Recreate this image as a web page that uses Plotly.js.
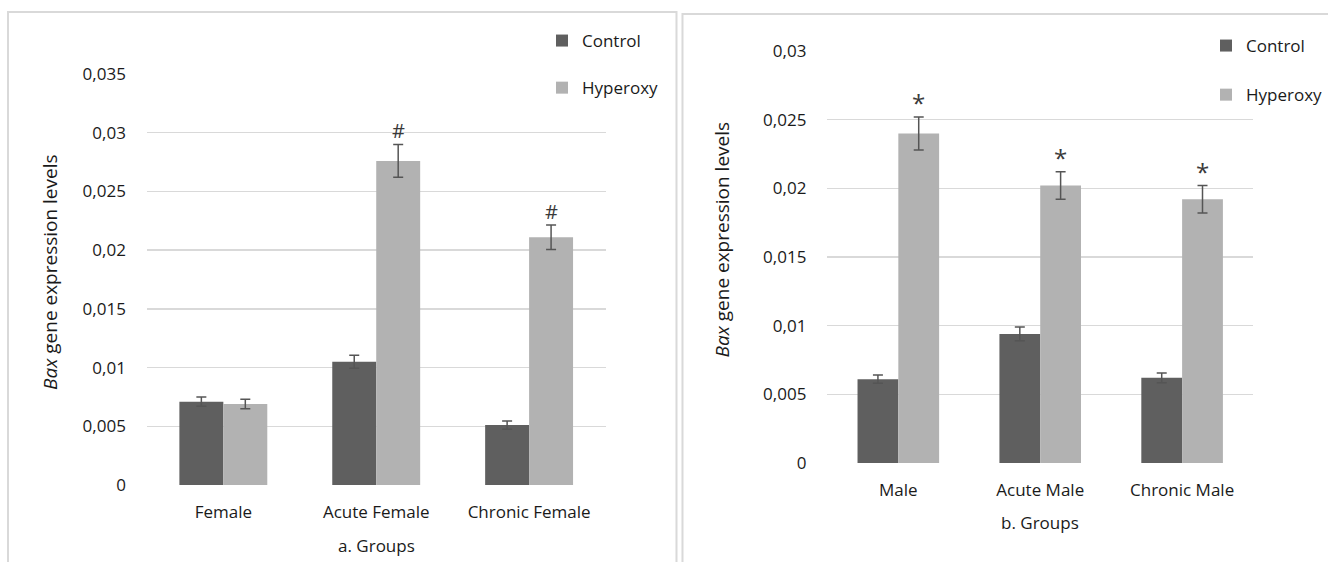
<!DOCTYPE html>
<html>
<head>
<meta charset="utf-8">
<script src="https://cdn.plot.ly/plotly-3.0.1.min.js"></script>
<style>html,body{margin:0;padding:0;background:#fff;}#chart{width:1328px;height:562px;}</style>
</head>
<body>
<div id="chart"></div>
<script>
// ---- Data ----
const groupsA = ['Female', 'Acute Female', 'Chronic Female'];
const controlA = [0.0071, 0.0105, 0.0051];
const controlAErr = [0.0004, 0.00055, 0.00035];
const hyperA = [0.0069, 0.0276, 0.0211];
const hyperAErr = [0.0004, 0.0014, 0.00105];
const marksA = ['', '#', '#'];

const groupsB = ['Male', 'Acute Male', 'Chronic Male'];
const controlB = [0.0061, 0.0094, 0.0062];
const controlBErr = [0.0003, 0.0005, 0.00036];
const hyperB = [0.0240, 0.0202, 0.0192];
const hyperBErr = [0.0012, 0.001, 0.001];
const marksB = ['*', '*', '*'];

const seriesNames = ['Control', 'Hyperoxy'];
const yTickValsA = [0, 0.005, 0.01, 0.015, 0.02, 0.025, 0.03, 0.035];
const yTickTextA = ['0', '0,005', '0,01', '0,015', '0,02', '0,025', '0,03', '0,035'];
const yTickValsB = [0, 0.005, 0.01, 0.015, 0.02, 0.025, 0.03];
const yTickTextB = ['0', '0,005', '0,01', '0,015', '0,02', '0,025', '0,03'];
const titleA = 'a. Groups';
const titleB = 'b. Groups';
const yTitle = '<i>Bax</i> gene expression levels';

// ---- Styling ----
const W = 1328, H = 562;
const px = v => v / W;
const py = v => 1 - v / H;
const cControl = '#5f5f5f', cHyper = '#b2b2b2';
const textColor = '#1a1a1a';
const font = 'Open Sans, sans-serif';
const errStyle = {type: 'data', visible: true, color: '#555555', thickness: 1.5, width: 5};

function bar(x, y, err, name, color, xa, ya, leg) {
  return {
    type: 'bar', x: x, y: y, name: name,
    marker: {color: color},
    error_y: Object.assign({array: err}, errStyle),
    xaxis: xa, yaxis: ya, legend: leg, legendgroup: name + leg,
    hoverinfo: 'x+y'
  };
}

const traces = [
  bar(groupsA, controlA, controlAErr, seriesNames[0], cControl, 'x', 'y', 'legend'),
  bar(groupsA, hyperA, hyperAErr, seriesNames[1], cHyper, 'x', 'y', 'legend'),
  bar(groupsB, controlB, controlBErr, seriesNames[0], cControl, 'x2', 'y2', 'legend2'),
  bar(groupsB, hyperB, hyperBErr, seriesNames[1], cHyper, 'x2', 'y2', 'legend2')
];

const annotations = [];
groupsA.forEach((g, i) => {
  if (marksA[i]) annotations.push({x: g, y: hyperA[i] + hyperAErr[i], xref: 'x', yref: 'y',
    text: marksA[i], showarrow: false, xshift: 22, yanchor: 'bottom', yshift: -2,
    font: {family: font, size: 20, color: '#3a3a3a'}});
});
groupsB.forEach((g, i) => {
  if (marksB[i]) annotations.push({x: g, y: hyperB[i] + hyperBErr[i], xref: 'x2', yref: 'y2',
    text: marksB[i], showarrow: false, xshift: 20, yanchor: 'bottom', yshift: -4,
    font: {family: font, size: 24, color: '#3a3a3a'}});
});
// axis titles
function title(x, y, text, angle) {
  return {xref: 'paper', yref: 'paper', x: px(x), y: py(y), xanchor: 'center', yanchor: 'middle',
    text: text, textangle: angle, showarrow: false, font: {family: font, size: angle ? 19 : 17, color: textColor}};
}
annotations.push(title(377, 545, titleA, 0));
annotations.push(title(1041, 522, titleB, 0));
annotations.push(title(50, 272, yTitle, -90));
annotations.push(title(723, 239, yTitle, -90));

const xBase = {type: 'category', showline: false, ticks: '', showgrid: false, zeroline: false,
  tickfont: {family: font, size: 17, color: textColor}, fixedrange: true, ticklabelstandoff: 15};
const yBase = {showline: false, ticks: '', zeroline: false, showgrid: true, gridcolor: '#d9d9d9', gridwidth: 1.5,
  tickfont: {family: font, size: 17, color: textColor}, tickmode: 'array', fixedrange: true, ticklabelstandoff: 20};

const layout = {
  width: W, height: H,
  margin: {l: 0, r: 0, t: 0, b: 0},
  paper_bgcolor: '#ffffff', plot_bgcolor: '#ffffff',
  barmode: 'group', bargap: 0.425, bargroupgap: 0,
  font: {family: font, color: textColor},
  xaxis: Object.assign({}, xBase, {domain: [px(147), px(606)], anchor: 'y'}),
  yaxis: Object.assign({}, yBase, {domain: [py(485), py(74)], anchor: 'x', range: [0, 0.035],
    tickvals: yTickValsA, ticktext: yTickTextA}),
  xaxis2: Object.assign({}, xBase, {domain: [px(828), px(1254)], anchor: 'y2'}),
  yaxis2: Object.assign({}, yBase, {domain: [py(463), py(51)], anchor: 'x2', range: [0, 0.03],
    tickvals: yTickValsB, ticktext: yTickTextB}),
  showlegend: true,
  legend: {x: px(542), y: py(23), xanchor: 'left', yanchor: 'top', traceorder: 'grouped', tracegroupgap: 22,
    font: {family: font, size: 17, color: textColor}, bgcolor: 'rgba(0,0,0,0)'},
  legend2: {x: px(1207), y: py(28), xanchor: 'left', yanchor: 'top', traceorder: 'grouped', tracegroupgap: 24,
    font: {family: font, size: 17, color: textColor}, bgcolor: 'rgba(0,0,0,0)'},
  annotations: annotations,
  shapes: [
    {type: 'rect', xref: 'paper', yref: 'paper', x0: px(8), x1: px(677), y0: -0.2, y1: py(12),
      line: {color: '#d9d9d9', width: 2}, fillcolor: 'rgba(0,0,0,0)', layer: 'below'},
    {type: 'rect', xref: 'paper', yref: 'paper', x0: px(683), x1: 1.2, y0: -0.2, y1: py(14),
      line: {color: '#d9d9d9', width: 2}, fillcolor: 'rgba(0,0,0,0)', layer: 'below'}
  ]
};

Plotly.newPlot('chart', traces, layout, {displayModeBar: false, staticPlot: true});
</script>
</body>
</html>
